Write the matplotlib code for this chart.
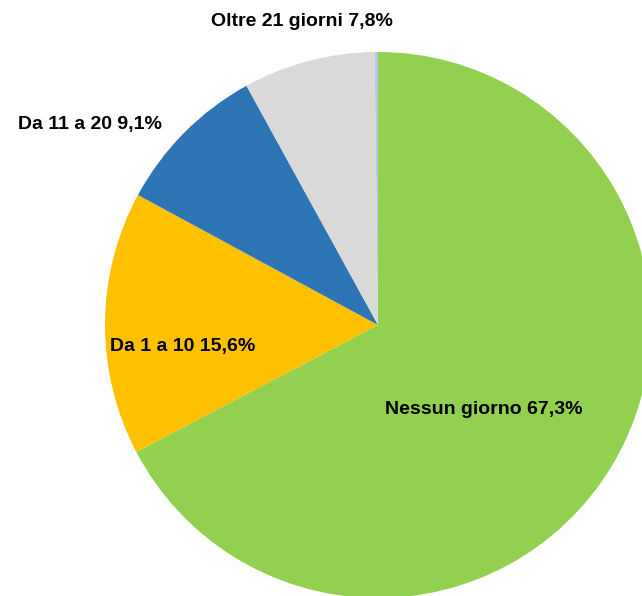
import matplotlib.pyplot as plt

categorie = ["Nessun giorno", "Da 1 a 10", "Da 11 a 20", "Oltre 21 giorni", ""]
valori = [67.3, 15.6, 9.1, 7.8, 0.2]
colori = ["#92D050", "#FFC000", "#2E75B6", "#D9D9D9", "#B4C7E7"]

# label positions in pixel coordinates (x, y from top)
pos_etichette = [(484, 410), (183, 347), (90, 124), (302, 22), None]

W, H = 642, 596
fig = plt.figure(figsize=(W / 100, H / 100), dpi=100)
ax = fig.add_axes([0, 0, 1, 1])

ax.pie(valori, colors=colori, startangle=90, counterclock=False,
       center=(378, H - 325), radius=273, frame=True,
       wedgeprops=dict(linewidth=0))
ax.set_xlim(0, W)
ax.set_ylim(0, H)
ax.set_aspect("equal")
ax.axis("off")

for nome, v, p in zip(categorie, valori, pos_etichette):
    if p is None:
        continue
    testo = f"{nome} {v:.1f}%".replace(".", ",")
    ax.text(p[0], H - p[1], testo, ha="center", va="center",
            fontsize=14, fontweight="bold", family="Liberation Sans")

fig.savefig("out.png", dpi=100)
